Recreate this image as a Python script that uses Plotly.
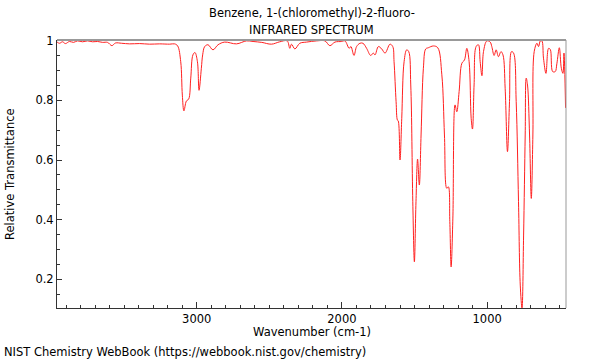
import plotly.graph_objects as go

wavenumber = [3961, 3945, 3924, 3904, 3876, 3848, 3821, 3786, 3752, 3717, 3683, 3648, 3614, 3584, 3559,
              3517, 3462, 3393, 3324, 3255, 3186, 3152, 3131, 3110, 3099, 3088, 3071, 3055, 3041, 3026,
              3012, 2995, 2984, 2968, 2959, 2945, 2922, 2888, 2853, 2807, 2726, 2657, 2612, 2552, 2485,
              2428, 2377, 2359, 2347, 2324, 2290, 2243, 2174, 2117, 2083, 2048, 2002, 1979, 1950, 1938,
              1917, 1899, 1876, 1855, 1830, 1802, 1784, 1772, 1749, 1726, 1703, 1669, 1650, 1641, 1627,
              1618, 1612, 1600, 1588, 1572, 1554, 1540, 1526, 1512, 1501, 1490, 1479, 1467, 1455, 1439,
              1423, 1405, 1370, 1340, 1312, 1294, 1278, 1267, 1257, 1248, 1236, 1221, 1209, 1193, 1174,
              1156, 1140, 1124, 1110, 1101, 1090, 1076, 1060, 1048, 1036, 1025, 1002, 979, 968, 952,
              938, 922, 905, 891, 876, 860, 846, 832, 818, 800, 784, 772, 760, 749, 738,
              731, 722, 708, 696, 685, 676, 657, 646, 634, 623, 612, 595, 577, 565, 549,
              531, 520, 503, 489, 478, 471, 460]
transmittance = [0.996, 0.992, 0.997, 0.991, 0.998, 0.995, 1.0, 0.997, 1.0, 0.997, 0.998, 0.995, 0.995, 0.984, 0.993,
                 0.992, 0.990, 0.991, 0.989, 0.990, 0.989, 0.990, 0.983, 0.930, 0.818, 0.765, 0.798, 0.805, 0.875, 0.953,
                 0.961, 0.930, 0.834, 0.908, 0.953, 0.981, 0.987, 0.970, 0.987, 0.996, 0.990, 1.0, 0.998, 0.995, 0.989,
                 0.997, 1.0, 0.975, 0.989, 0.973, 0.992, 0.996, 1.0, 1.0, 0.984, 0.996, 0.998, 1.0, 0.975, 0.981,
                 0.951, 0.981, 0.992, 0.992, 0.975, 0.951, 0.959, 0.953, 0.981, 0.973, 0.959, 0.989, 0.981, 0.930, 0.796,
                 0.734, 0.731, 0.600, 0.740, 0.930, 0.970, 0.964, 0.852, 0.460, 0.258, 0.460, 0.603, 0.516, 0.684, 0.908,
                 0.973, 0.977, 0.983, 0.977, 0.886, 0.684, 0.505, 0.510, 0.393, 0.241, 0.405, 0.785, 0.762, 0.830, 0.925,
                 0.936, 0.975, 0.930, 0.740, 0.704, 0.852, 0.981, 0.987, 0.930, 0.883, 0.964, 1.0, 0.996, 0.981, 0.951,
                 0.970, 0.947, 0.964, 0.953, 0.841, 0.628, 0.796, 0.964, 0.959, 0.796, 0.460, 0.180, 0.103, 0.348, 0.684,
                 0.875, 0.852, 0.684, 0.471, 0.684, 0.964, 0.992, 0.981, 1.0, 1.0, 0.942, 0.891, 0.975, 0.971, 0.897,
                 0.897, 0.923, 0.977, 0.908, 0.891, 0.959, 0.775]

x_tick_vals = [3000, 2000, 1000]
x_tick_text = ["3000", "2000", "1000"]
y_tick_vals = [0.2, 0.4, 0.6, 0.8, 1.0]
y_tick_text = ["0.2", "0.4", "0.6", "0.8", "1"]

title_line1 = "Benzene, 1-(chloromethyl)-2-fluoro-"
title_line2 = "INFRARED SPECTRUM"
x_title = "Wavenumber (cm-1)"
y_title = "Relative Transmittance"
footer = "NIST Chemistry WebBook (https://webbook.nist.gov/chemistry)"

FONT = "DejaVu Sans"
FS = 11.5
fig = go.Figure()
fig.add_trace(go.Scatter(x=wavenumber, y=transmittance, mode="lines",
                         line=dict(color="#ff2020", width=1), line_shape="spline",
                         hoverinfo="skip", showlegend=False))

fig.update_layout(
    width=600, height=360,
    margin=dict(l=57, r=34, t=40, b=52),
    paper_bgcolor="white", plot_bgcolor="white",
    font=dict(family=FONT, size=FS, color="black"),
    showlegend=False,
    xaxis=dict(range=[3962, 457], showgrid=False, zeroline=False,
               showline=True, linecolor="#333333", linewidth=1,
               ticks="inside", ticklen=6, tickcolor="#333333",
               tickvals=x_tick_vals, ticktext=x_tick_text,
               minor=dict(dtick=100, tick0=0, ticks="inside", ticklen=3, tickcolor="#333333"),
               tickfont=dict(family=FONT, size=FS)),
    yaxis=dict(range=[0.103, 1.003], showgrid=False, zeroline=False,
               showline=True, linecolor="#333333", linewidth=1,
               ticks="inside", ticklen=5, tickcolor="#333333",
               tickvals=y_tick_vals, ticktext=y_tick_text,
               minor=dict(dtick=0.05, tick0=0, ticks="inside", ticklen=3, tickcolor="#333333"),
               tickfont=dict(family=FONT, size=FS)),
    shapes=[
        dict(type="line", xref="paper", yref="paper", x0=0, x1=1, y0=1, y1=1,
             line=dict(color="#999999", width=2)),
        dict(type="line", xref="paper", yref="paper", x0=1, x1=1, y0=0, y1=1,
             line=dict(color="#999999", width=1)),
    ],
    annotations=[
        dict(text=title_line1, xref="paper", yref="paper", x=0.5, y=1, yanchor="middle",
             yshift=27, showarrow=False, font=dict(family=FONT, size=FS)),
        dict(text=title_line2, xref="paper", yref="paper", x=0.5, y=1, yanchor="middle",
             yshift=10, showarrow=False, font=dict(family=FONT, size=FS)),
        dict(text=x_title, xref="paper", yref="paper", x=0.5, y=0, yanchor="middle",
             yshift=-24, showarrow=False, font=dict(family=FONT, size=FS)),
        dict(text=y_title, xref="paper", yref="paper", x=0, y=0.5, xanchor="center",
             xshift=-47, textangle=-90, showarrow=False, font=dict(family=FONT, size=FS)),
        dict(text=footer, xref="paper", yref="paper", x=0, y=0, xanchor="left", yanchor="middle",
             xshift=-55, yshift=-44, showarrow=False, font=dict(family=FONT, size=FS)),
    ],
)

fig.write_html("out.html", config={"displayModeBar": False},
               post_script="document.body.style.margin='0';document.body.style.overflow='hidden';")
